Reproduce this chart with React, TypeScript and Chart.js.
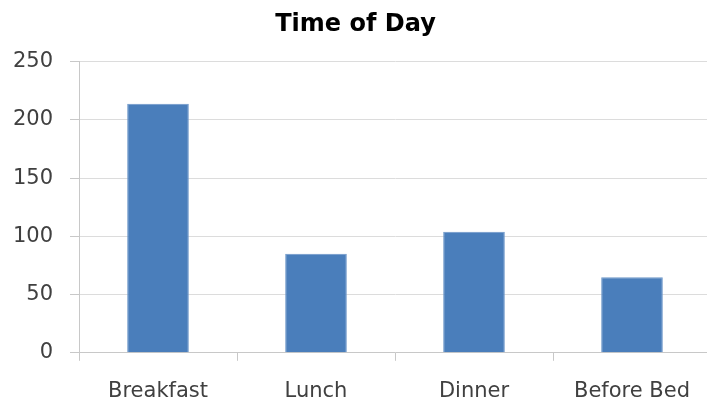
import React, { useEffect, useRef } from "react";
import { Chart, registerables } from "chart.js";

Chart.register(...registerables);

const categories = ["Breakfast", "Lunch", "Dinner", "Before Bed"];
const counts = [214, 85, 104, 65];
const yTicks = [0, 50, 100, 150, 200, 250];
const chartTitle = "Time of Day";

const FONT = "'DejaVu Sans', sans-serif";

export default function App() {
  const ref = useRef<HTMLCanvasElement | null>(null);

  useEffect(() => {
    document.body.style.margin = "0";
    const canvas = ref.current;
    if (!canvas) return;
    const chart = new Chart(canvas, {
      type: "bar",
      data: {
        labels: categories,
        datasets: [
          {
            data: counts,
            backgroundColor: "#4a7ebb",
            borderColor: "#6d97c9",
            borderWidth: 1,
            categoryPercentage: 0.39,
            barPercentage: 1,
          },
        ],
      },
      options: {
        responsive: false,
        animation: false,
        devicePixelRatio: 1,
        layout: { padding: { left: 0, right: 0, top: 0, bottom: 0 } },
        plugins: {
          legend: { display: false },
          tooltip: { enabled: false },
          title: {
            display: true,
            text: chartTitle,
            color: "#000000",
            font: { family: FONT, size: 24, weight: "bold" },
            padding: { top: 10, bottom: 23 },
          },
        },
        scales: {
          x: {
            offset: true,
            grid: {
              offset: true,
              drawOnChartArea: false,
              drawTicks: true,
              tickLength: 8,
              color: "#c8c8c8",
            },
            border: { color: "#c8c8c8", width: 1 },
            ticks: {
              color: "#404040",
              font: { family: FONT, size: 21 },
              padding: 18,
              maxRotation: 0,
            },
          },
          y: {
            min: 0,
            max: 250,
            afterBuildTicks: (scale: any) => {
              scale.ticks = yTicks.map((v) => ({ value: v }));
            },
            afterFit: (scale: any) => {
              scale.width = 79;
            },
            grid: {
              color: "#dcdcdc",
              tickLength: 9,
              tickColor: "#c8c8c8",
            },
            border: { color: "#c8c8c8", width: 1 },
            ticks: {
              color: "#404040",
              font: { family: FONT, size: 21 },
              padding: 17,
            },
          },
        },
      },
    });
    return () => chart.destroy();
  }, []);

  return (
    <div
      style={{
        position: "fixed",
        left: 0,
        top: 0,
        width: 707,
        height: 399,
        overflow: "hidden",
        background: "#ffffff",
      }}
    >
      <canvas ref={ref} width={711} height={422} style={{ display: "block" }} />
    </div>
  );
}
